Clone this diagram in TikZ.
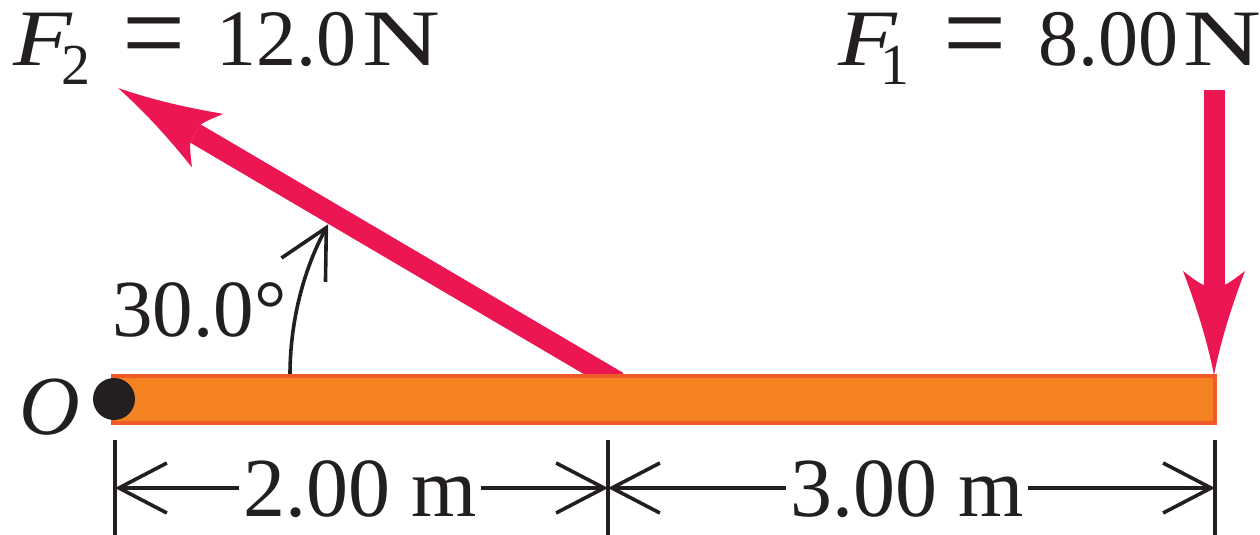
\documentclass[tikz,border=0pt]{standalone}
\usepackage{fontspec}
\setmainfont{Liberation Serif}
\usetikzlibrary{arrows.meta,calc}
\definecolor{forcepink}{RGB}{236,22,82}
\definecolor{barfill}{RGB}{245,130,32}
\definecolor{baredge}{RGB}{239,90,40}
\definecolor{inkblack}{RGB}{35,31,32}
\newcommand{\subfig}[1]{\raisebox{-9.5pt}{\fontsize{29}{29}\selectfont #1}}
\newcommand{\bigeq}{\raisebox{-4.5pt}{\scalebox{1.4}[1.55]{=}}}
\newcommand{\wideF}{\scalebox{1.2}[1]{\textit{F}}}
\newcommand{\wideN}{\scalebox{1.35}[1]{N}}
\begin{document}
\begin{tikzpicture}[x=0.5pt,y=-0.5pt,
  lbl/.style={inner sep=0pt, anchor=base west, font=\fontsize{40}{40}\selectfont, text=inkblack},
  dimtxt/.style={inner xsep=2pt, inner ysep=0pt, anchor=base, font=\fontsize{42}{42}\selectfont, text=inkblack},
  dimline/.style={draw=inkblack, line width=1.8pt},
  barbtip/.style={-{Straight Barb[length=24pt,width=25pt]}},
  forceshaft/.style={draw=forcepink, line width=10.5pt},
  pics/forcehead/.style={code={
    \fill[forcepink] (0,0) .. controls (-40,-8) and (-75,-20) .. (-104,-31)
      .. controls (-97,-22) and (-92,-15) .. (-90,-10.5) -- (-90,10.5)
      .. controls (-92,15) and (-97,22) .. (-104,31)
      .. controls (-75,20) and (-40,8) .. (0,0) -- cycle;}}
]
\useasboundingbox (0,0) rectangle (1260,535);

% key points
\coordinate (F2base) at (607,375);
\coordinate (F2tip) at (118,88);
\coordinate (F2in) at (618,382);
\coordinate (F1top) at (1214,90);
\coordinate (F1tip) at (1214,375);
\coordinate (arcstart) at (290,375);

% angle arc
\draw[dimline, barbtip] (arcstart) arc[start angle=180, end angle=151.6, radius=158.5pt];

% dimension ticks
\coordinate (t0) at (115,488);
\coordinate (t1) at (608,488);
\coordinate (t2) at (1215,488);
\coordinate (t0a) at (115,440); \coordinate (t0b) at (115,535);
\coordinate (t1a) at (608,440); \coordinate (t1b) at (608,535);
\coordinate (t2a) at (1215,440); \coordinate (t2b) at (1215,535);
\draw[dimline] (t0a) -- (t0b);
\draw[dimline] (t1a) -- (t1b);
\draw[dimline] (t2a) -- (t2b);

\node[dimtxt] (d1) at (360,516) {2.00 m};
\node[dimtxt] (d2) at (907,516) {3.00 m};
\draw[dimline, barbtip] (t0 -| d1.west) -- (t0);
\draw[dimline, barbtip] (t1 -| d1.east) -- (t1);
\draw[dimline, barbtip] (t1 -| d2.west) -- (t1);
\draw[dimline, barbtip] (t2 -| d2.east) -- (t2);

% forces
\draw[forceshaft] (F2in) -- ($(F2tip)!45pt!(F2in)$);
\pic[rotate=149.6] at (F2tip) {forcehead};
\draw[forceshaft] (F1top) -- ($(F1tip)!45pt!(F1top)$);
\pic[rotate=-90] at (F1tip) {forcehead};

% bar
\draw[fill=barfill, draw=baredge, line width=1.6pt] (113,376) rectangle (1215,423);
\fill[inkblack] (114,399) circle (10.5pt);

% labels
\node[lbl, font=\fontsize{42}{42}\selectfont] (Olbl) at (19,434) {\textit{O}};
\node[lbl, font=\fontsize{40.5}{40.5}\selectfont] (anglbl) at (112,336) {30.0°};
\node[lbl] (F2lbl) at (13,66) {\wideF\kern-5.5pt\subfig{2}\kern16pt\bigeq\kern15.5pt 12.0\kern3pt\wideN};
\node[lbl] (F1lbl) at (838,66) {\wideF\kern-8.7pt\subfig{1}\kern17pt\bigeq\kern16pt 8.00\kern2.5pt\wideN};
\end{tikzpicture}
\end{document}
